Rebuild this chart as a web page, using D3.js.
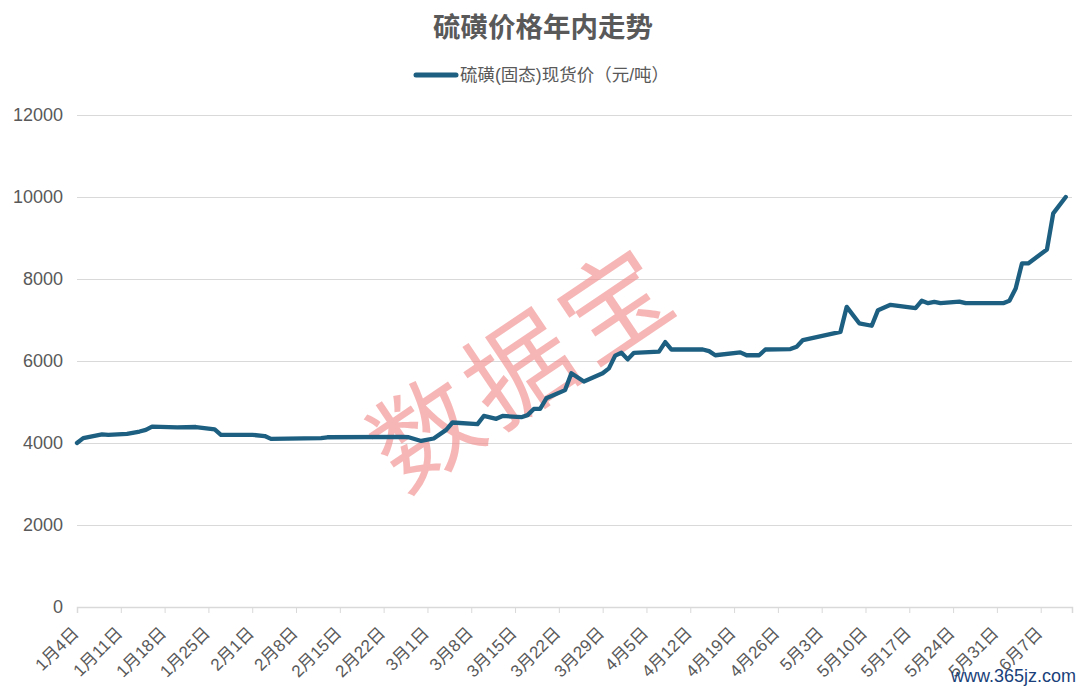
<!DOCTYPE html>
<html>
<head>
<meta charset="utf-8">
<title>硫磺价格年内走势</title>
<script src="https://cdn.jsdelivr.net/npm/d3@7"></script>
<style>
  body { margin: 0; background: #fff; }
  text { font-family: "Liberation Sans", "Noto Sans CJK SC", sans-serif; }
</style>
</head>
<body>
<svg width="1080" height="690"></svg>
<script>
// 2021 trading days
var dates = [
  "01-04","01-05","01-07","01-08","01-09","01-12","01-14","01-15","01-16","01-20",
  "01-23","01-26","01-27","02-01","02-03","02-04","02-12","02-13","02-25","02-26",
  "02-28","03-02","03-04","03-05","03-09","03-10","03-12","03-13","03-16","03-17",
  "03-18","03-19","03-20","03-23","03-24","03-26","03-29","03-30","03-31","04-01",
  "04-02","04-03","04-07","04-08","04-09","04-14","04-15","04-16","04-20","04-21",
  "04-23","04-24","04-28","04-29","04-30","05-06","05-07","05-09","05-11","05-12",
  "05-14","05-18","05-19","05-20","05-21","05-22","05-25","05-26","06-01","06-02",
  "06-03","06-04","06-05","06-08","06-09","06-11"
];
var prices = [
  4000,4120,4180,4210,4200,4225,4280,4320,4400,4380,
  4390,4330,4200,4200,4170,4100,4120,4140,4150,4140,
  4050,4110,4320,4500,4460,4660,4590,4660,4630,4680,
  4830,4830,5090,5290,5700,5500,5700,5820,6130,6200,
  6040,6200,6230,6460,6280,6280,6240,6140,6210,6140,
  6140,6280,6290,6350,6510,6710,7320,6920,6860,7240,
  7370,7290,7470,7410,7440,7410,7450,7410,7410,7470,
  7770,8380,8380,8720,9600,10000
];
var yTicks = [0, 2000, 4000, 6000, 8000, 10000, 12000];
var seriesName = "硫磺(固态)现货价（元/吨）";
var title = "硫磺价格年内走势";

var svg = d3.select("svg");
var parse = d3.timeParse("%Y-%m-%d");
var data = dates.map(function(d, i) { return { date: parse("2021-" + d), value: prices[i] }; });

var x = d3.scaleTime()
    .domain([parse("2021-01-04"), parse("2021-06-12")])
    .range([77, 1072]);
var y = d3.scaleLinear()
    .domain([0, 12000])
    .range([607, 115]);

// grid + y labels
var yAxis = svg.append("g")
    .attr("transform", "translate(77,0)")
    .call(d3.axisLeft(y).tickValues(yTicks).tickFormat(d3.format("d"))
      .tickSize(-(1072 - 77)).tickPadding(14));
yAxis.select(".domain").remove();
yAxis.selectAll("line").attr("stroke", "#d9d9d9").attr("stroke-width", 1);
yAxis.selectAll("text")
    .attr("fill", "#595959")
    .attr("font-size", "18px");

// x axis
var xAxis = svg.append("g")
    .attr("transform", "translate(0,607)")
    .call(d3.axisBottom(x)
      .tickValues(d3.timeMonday.range(parse("2021-01-04"), parse("2021-06-12")))
      .tickFormat(d3.timeFormat("%-m月%-d日"))
      .tickSizeOuter(0)
      .tickSize(6));
xAxis.select(".domain").attr("stroke", "#d9d9d9").attr("stroke-width", 1.5);
xAxis.selectAll("line").attr("stroke", "#d9d9d9");
xAxis.selectAll("text")
    .attr("fill", "#595959")
    .attr("font-size", "17px")
    .attr("font-family", "Noto Sans CJK SC")
    .attr("text-anchor", "end")
    .attr("dy", "0.35em")
    .attr("transform", "translate(-2,23) rotate(-45)")
    .attr("y", 0)
    .attr("x", 0);

// watermark
svg.append("text")
    .attr("transform", "translate(524,368) rotate(-34)")
    .attr("text-anchor", "middle")
    .attr("font-family", "Noto Sans CJK SC")
    .attr("font-size", "106px")
    .attr("letter-spacing", "8px")
    .attr("fill", "#f28b8b")
    .attr("opacity", 0.62)
    .attr("dy", "0.35em")
    .text("数据宝");

// line
var line = d3.line()
    .x(function(d) { return x(d.date); })
    .y(function(d) { return y(d.value); });
svg.append("path")
    .datum(data)
    .attr("fill", "none")
    .attr("stroke", "#1d5f80")
    .attr("stroke-width", 4.3)
    .attr("stroke-linejoin", "round")
    .attr("stroke-linecap", "round")
    .attr("d", line);

// title
svg.append("text")
    .attr("x", 543)
    .attr("y", 37)
    .attr("text-anchor", "middle")
    .attr("font-family", "Noto Sans CJK SC")
    .attr("font-weight", "bold")
    .attr("font-size", "27.5px")
    .attr("fill", "#595959")
    .text(title);

// legend
svg.append("line")
    .attr("x1", 416).attr("x2", 456)
    .attr("y1", 75).attr("y2", 75)
    .attr("stroke", "#1d5f80")
    .attr("stroke-width", 5)
    .attr("stroke-linecap", "round");
svg.append("text")
    .attr("x", 460)
    .attr("y", 81)
    .attr("font-family", "Noto Sans CJK SC")
    .attr("font-size", "17.5px")
    .attr("fill", "#595959")
    .text(seriesName);

// site mark
svg.append("text")
    .attr("x", 1076)
    .attr("y", 682)
    .attr("text-anchor", "end")
    .attr("font-family", "Liberation Serif")
    .attr("font-size", "18px")
    .attr("fill", "#1a3f7a")
    .text("www.365jz.com");
</script>
</body>
</html>
